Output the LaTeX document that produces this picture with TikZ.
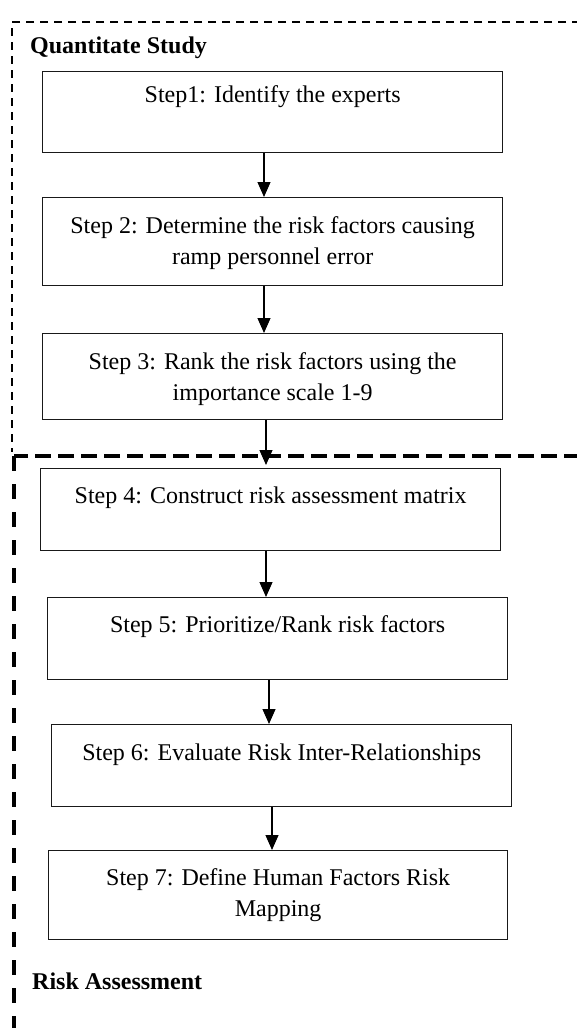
\documentclass[tikz,border=0pt]{standalone}
\usepackage{fontspec}
\setmainfont{Liberation Serif}
\usetikzlibrary{arrows.meta,calc}
\begin{document}
\begin{tikzpicture}[x=1pt,y=-1pt,
  stepbox/.style={draw=black!90,line width=1.3pt,anchor=north west,inner sep=0pt,minimum height=#1},
  steptext/.style={anchor=base,inner sep=0pt,align=center,font=\fontsize{24}{31}\selectfont},
  flow/.style={-{Triangle[length=15pt,width=13pt]},line width=1.2pt},
  thindash/.style={line width=1.4pt,dash pattern=on 8pt off 6pt},
  thickdash/.style={line width=3.5pt},
  grouplabel/.style={anchor=base west,inner sep=0pt,font=\fontsize{24}{30}\selectfont\bfseries}]
\useasboundingbox (0,0) rectangle (576,1028);
% group frames
\coordinate (qa) at (580,22);
\coordinate (qb) at (12,22);
\coordinate (qc) at (12,452);
\draw[thindash] (qa) -- (qb) -- (qc);
\coordinate (ra) at (580,456);
\coordinate (rb) at (14,456);
\coordinate (rc) at (14,1032);
\draw[thickdash,dash pattern=on 16pt off 7pt] (ra) -- (rb);
\draw[thickdash,dash pattern=on 15pt off 13pt] (rb) -- (rc);
\node[grouplabel] (lq) at (30,53) {Quantitate Study};
\node[grouplabel] (lr) at (32,989) {Risk Assessment};
% boxes
\node[stepbox=81pt,minimum width=460pt] (b1) at (42,71) {};
\node[stepbox=88pt,minimum width=460pt] (b2) at (42,197) {};
\node[stepbox=86pt,minimum width=460pt] (b3) at (42,333) {};
\node[stepbox=82pt,minimum width=460pt] (b4) at (40,468) {};
\node[stepbox=82pt,minimum width=460pt] (b5) at (47,597) {};
\node[stepbox=82pt,minimum width=460pt] (b6) at (51,724) {};
\node[stepbox=89pt,minimum width=459pt] (b7) at (48,850) {};
% texts (base anchor of a two-line node is the last line's baseline)
\node[steptext] (t1) at ($(b1.north)+(0,31)$) {Step1: Identify the experts};
\node[steptext] (t2) at ($(b2.north)+(0,67)$) {Step 2: Determine the risk factors causing\\ramp personnel error};
\node[steptext] (t3) at ($(b3.north)+(0,67)$) {Step 3: Rank the risk factors using the\\importance scale 1-9};
\node[steptext] (t4) at ($(b4.north)+(0,35)$) {Step 4: Construct risk assessment matrix};
\node[steptext] (t5) at ($(b5.north)+(0,35)$) {Step 5: Prioritize/Rank risk factors};
\node[steptext] (t6) at ($(b6.north)+(0,36)$) {Step 6: Evaluate Risk Inter-Relationships};
\node[steptext] (t7) at ($(b7.north)+(0,66)$) {Step 7: Define Human Factors Risk\\Mapping};
% arrows
\draw[flow] (b1.south -| 264,0) -- (b2.north -| 264,0);
\draw[flow] (b2.south -| 264,0) -- (b3.north -| 264,0);
\draw[flow] (b3.south -| 266,0) -- ($(b4.north -| 266,0)+(0,-3)$);
\draw[flow] (b4.south -| 266,0) -- (b5.north -| 266,0);
\draw[flow] (b5.south -| 269,0) -- (b6.north -| 269,0);
\draw[flow] (b6.south -| 272,0) -- (b7.north -| 272,0);
\end{tikzpicture}
\end{document}
